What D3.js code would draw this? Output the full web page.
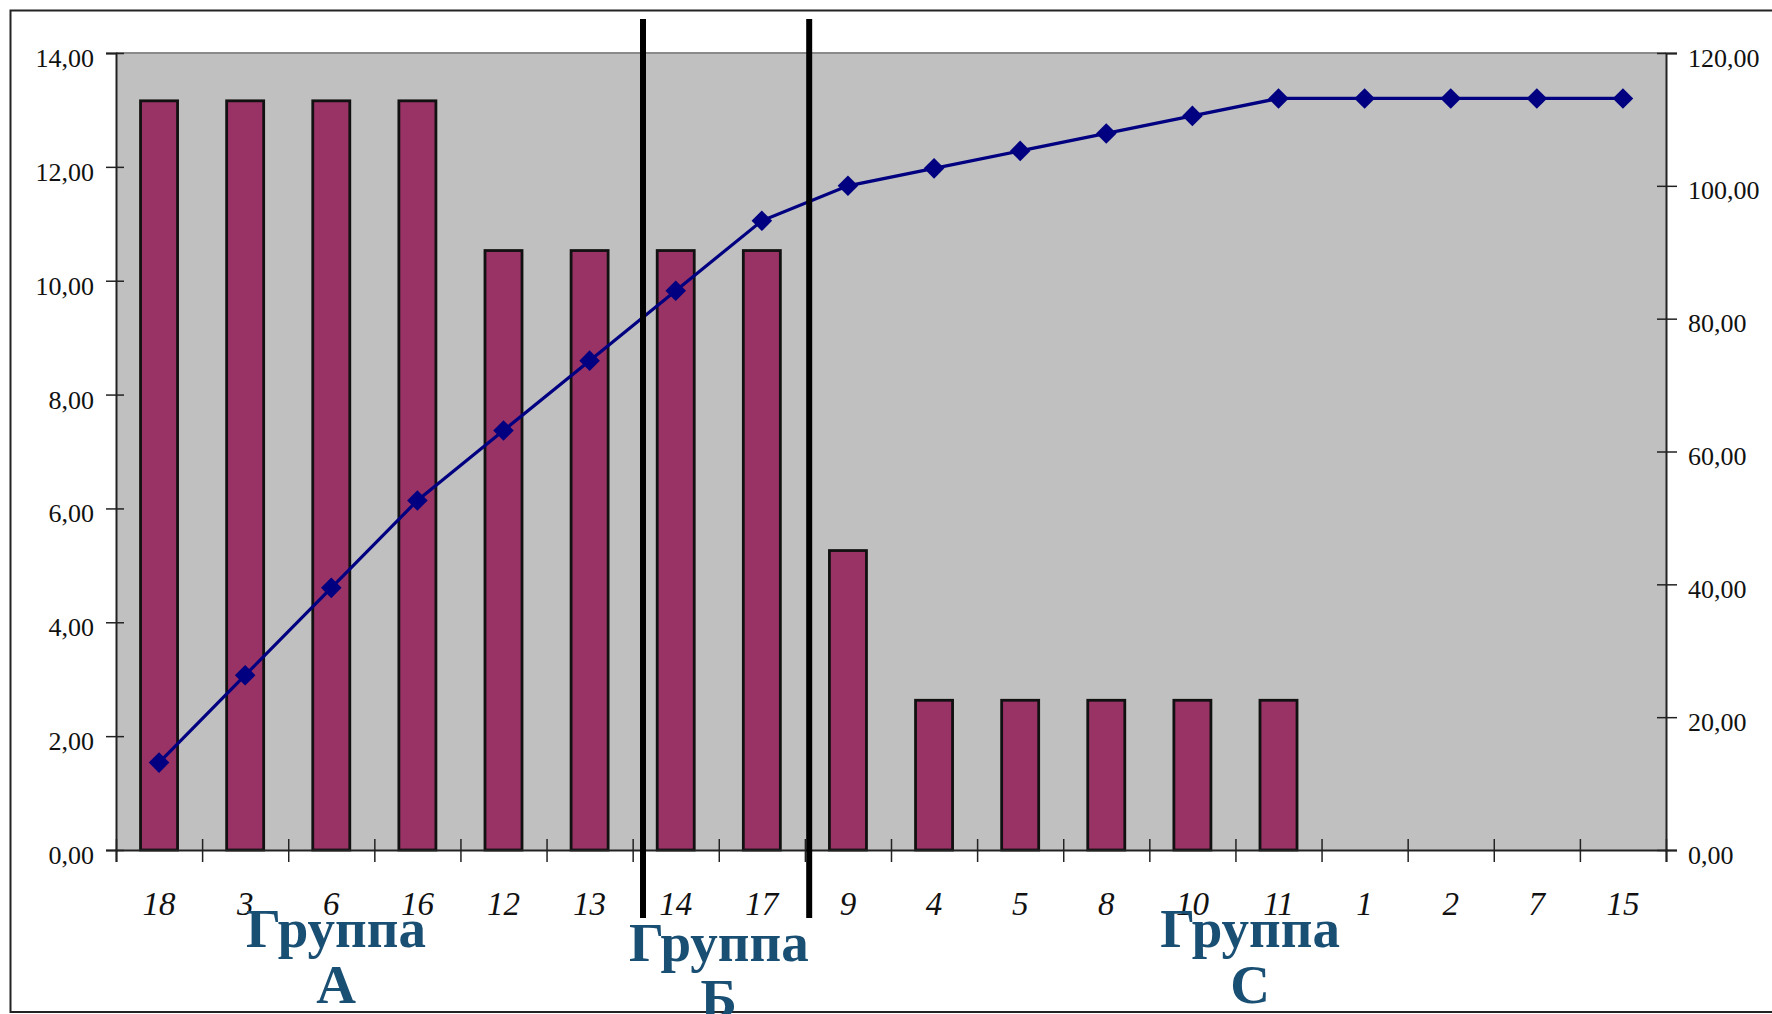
<!DOCTYPE html>
<html>
<head>
<meta charset="utf-8">
<script src="https://cdn.jsdelivr.net/npm/d3@7"></script>
<style>
  html, body { margin: 0; padding: 0; background: #fff; }
  svg { display: block; }
</style>
</head>
<body>
<svg id="chart" width="1772" height="1014"></svg>
<script>
// ---- data ----
const categories = ["18","3","6","16","12","13","14","17","9","4","5","8","10","11","1","2","7","15"];
const shares = [13.16,13.16,13.16,13.16,10.53,10.53,10.53,10.53,5.26,2.63,2.63,2.63,2.63,2.63,0,0,0,0];
const cumulative = [13.16,26.32,39.47,52.63,63.16,73.68,84.21,94.74,100.00,102.63,105.26,107.89,110.53,113.16,113.16,113.16,113.16,113.16];
const leftTicks = [0,2,4,6,8,10,12,14];
const rightTicks = [0,20,40,60,80,100,120];
const groupLabels = [
  { lines: ["Группа", "А"], center: 2.555, top: 947 },
  { lines: ["Группа", "Б"], center: 7.0, top: 961 },
  { lines: ["Группа", "С"], center: 13.17, top: 947 }
];
const dividers = [6.12, 8.05]; // in category-step units

// ---- layout ----
const L = 116, R = 1666, T = 53, B = 850;
const svg = d3.select("#chart");
const font = "'Liberation Serif', 'Times New Roman', serif";

const x = d3.scaleBand().domain(categories).range([L, R]).paddingInner(0.57).paddingOuter(0.285);
const xi = d3.scaleLinear().domain([0, categories.length]).range([L, R]);
const yL = d3.scaleLinear().domain([0, 14]).range([B, T]);
const yR = d3.scaleLinear().domain([0, 120]).range([B, T]);
const fmt = d => d3.format(".2f")(d).replace(".", ",");

// outer frame
svg.append("rect").attr("x", 10.5).attr("y", 10.5).attr("width", 1780).attr("height", 1001.5)
  .attr("fill", "none").attr("stroke", "#222").attr("stroke-width", 2);

// plot area
svg.append("rect").attr("x", L).attr("y", T).attr("width", R - L).attr("height", B - T).attr("fill", "#c0c0c0");
svg.append("line").attr("x1", L).attr("x2", R).attr("y1", T).attr("y2", T).attr("stroke", "#8a8a8a").attr("stroke-width", 2);

// bars
svg.append("g").selectAll("rect").data(categories).join("rect")
  .attr("x", (c) => x(c))
  .attr("y", (c, i) => yL(shares[i]))
  .attr("width", x.bandwidth())
  .attr("height", (c, i) => yL(0) - yL(shares[i]))
  .attr("fill", "#993366")
  .attr("stroke", "#111")
  .attr("stroke-width", (c, i) => shares[i] > 0 ? 2.8 : 0);

// left axis
const gL = svg.append("g").attr("transform", `translate(${L},0)`)
  .call(d3.axisLeft(yL).tickValues(leftTicks).tickFormat(fmt).tickSize(10).tickPadding(12));
gL.select(".domain").attr("stroke", "#222").attr("stroke-width", 2);
gL.selectAll(".tick line").attr("x2", -10).attr("x1", 8).attr("stroke", "#222").attr("stroke-width", 1.5);
gL.selectAll(".tick text").attr("font-family", font).attr("font-size", 26).attr("fill", "#111").attr("dy", "0.52em");

// right axis
const gR = svg.append("g").attr("transform", `translate(${R},0)`)
  .call(d3.axisRight(yR).tickValues(rightTicks).tickFormat(fmt).tickSize(11).tickPadding(11));
gR.select(".domain").attr("stroke", "#222").attr("stroke-width", 2);
gR.selectAll(".tick line").attr("x1", -9).attr("stroke", "#222").attr("stroke-width", 1.5);
gR.selectAll(".tick text").attr("font-family", font).attr("font-size", 26).attr("fill", "#111").attr("dy", "0.5em");

// bottom axis: boundary ticks
const gB = svg.append("g").attr("transform", `translate(0,${B})`)
  .call(d3.axisBottom(xi).tickValues(d3.range(0, categories.length + 1)).tickFormat("").tickSize(12));
gB.select(".domain").attr("stroke", "#222").attr("stroke-width", 2);
gB.selectAll(".tick line").attr("y1", -11).attr("stroke", "#222").attr("stroke-width", 1.5);

// bottom axis: category labels
const gBL = svg.append("g").attr("transform", `translate(0,${B})`)
  .call(d3.axisBottom(x).tickSize(0).tickPadding(0));
gBL.select(".domain").remove();
gBL.selectAll(".tick text").attr("font-family", font).attr("font-size", 33).attr("font-style", "italic")
  .attr("fill", "#111").attr("y", 65).attr("dy", 0);

// cumulative line
const cx = (c) => x(c) + x.bandwidth() / 2;
svg.append("path")
  .attr("d", d3.line().x((d, i) => cx(categories[i])).y(d => yR(d))(cumulative))
  .attr("fill", "none").attr("stroke", "#000080").attr("stroke-width", 3.2);
svg.append("g").selectAll("path").data(cumulative).join("path")
  .attr("d", d3.symbol().type(d3.symbolDiamond2).size(270))
  .attr("transform", (d, i) => `translate(${cx(categories[i])},${yR(d)})`)
  .attr("fill", "#000080");

// shadow filter for dividers
const defs = svg.append("defs");
const f = defs.append("filter").attr("id", "blur").attr("x", "-200%").attr("width", "500%");
f.append("feGaussianBlur").attr("stdDeviation", 4);

// divider lines
dividers.forEach(p => {
  const xv = xi(p);
  svg.append("line").attr("x1", xv - 6).attr("x2", xv - 6).attr("y1", 22).attr("y2", 920)
    .attr("stroke", "#555").attr("stroke-width", 7).attr("opacity", 0.6).attr("filter", "url(#blur)");
  svg.append("line").attr("x1", xv).attr("x2", xv).attr("y1", 19).attr("y2", 918)
    .attr("stroke", "#000").attr("stroke-width", 6);
});

// group labels
groupLabels.forEach(g => {
  const t = svg.append("text").attr("x", xi(g.center)).attr("y", g.top)
    .attr("text-anchor", "middle").attr("font-family", font).attr("font-weight", "bold")
    .attr("font-size", 55).attr("fill", "#1a4f74");
  g.lines.forEach((ln, k) => {
    t.append("tspan").attr("x", xi(g.center)).attr("dy", k === 0 ? 0 : 56).text(ln);
  });
});
</script>
</body>
</html>
